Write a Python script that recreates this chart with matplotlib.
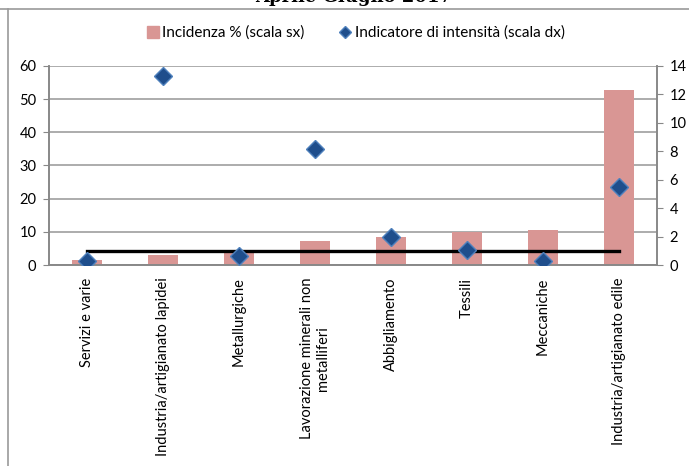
import matplotlib
matplotlib.use("Agg")
import matplotlib.pyplot as plt
from matplotlib.lines import Line2D
import numpy as np

categories = ["Servizi e varie", "Industria/artigianato lapidei", "Metallurgiche",
              "Lavorazione minerali non\nmetalliferi", "Abbigliamento", "Tessili",
              "Meccaniche", "Industria/artigianato edile"]
incidenza = [1.5, 2.9, 4.2, 7.2, 8.3, 10.0, 10.5, 52.8]
intensita = [0.3, 13.3, 0.63, 8.15, 2.0, 1.05, 0.3, 5.5]
soglia = [1, 1, 1, 1, 1, 1, 1, 1]
left_ticks = [0, 10, 20, 30, 40, 50, 60]
right_ticks = [0, 2, 4, 6, 8, 10, 12, 14]

plt.rcParams['font.family'] = ['Lato', 'DejaVu Sans']

fig = plt.figure(figsize=(6.89, 4.66), dpi=100)
ax = fig.add_axes([0.0711, 0.4313, 0.8824, 0.4271])
ax2 = ax.twinx()

x = np.arange(len(categories))
ax.bar(x, incidenza, width=0.4, color='#D99694', zorder=2)
ax.set_xlim(-0.5, len(categories) - 0.5)
ax.set_ylim(0, 60)
ax.set_yticks(left_ticks)
ax.yaxis.grid(True, color='#A6A6A6', linewidth=1.3, zorder=0)
ax.set_axisbelow(True)
ax.set_xticks(x)
ax.set_xticklabels(categories, rotation=90, fontsize=10.5, ha='center', va='top',
                   multialignment='center')
ax.tick_params(axis='x', length=0, pad=9)
ax.tick_params(axis='y', labelsize=10.5, length=4, color='#888888', direction='out', pad=5)

ax2.plot(x, soglia, color='black', linewidth=2.4, zorder=3)
ax2.plot(x, intensita, linestyle='none', marker='D', markersize=9.5,
         markerfacecolor='#1F4E8C', markeredgecolor='#4F81BD', markeredgewidth=1, zorder=4)
ax2.set_ylim(0, 14)
ax2.set_yticks(right_ticks)
ax2.tick_params(axis='y', labelsize=10.5, length=4, color='#888888', direction='out', pad=5)

for a in (ax, ax2):
    a.spines['top'].set_visible(False)
    for s in ('left', 'right', 'bottom'):
        a.spines[s].set_color('#888888')
        a.spines[s].set_linewidth(1.2)

handles = [
    Line2D([], [], linestyle='none', marker='s', markersize=8, markerfacecolor='#D99694',
           markeredgecolor='#D99694'),
    Line2D([], [], linestyle='none', marker='D', markersize=6, markerfacecolor='#1F4E8C',
           markeredgecolor='#4F81BD'),
]
fig.legend(handles, ["Incidenza % (scala sx)", "Indicatore di intensità (scala dx)"],
           loc='center', bbox_to_anchor=(0.515, 1 - 33 / 466), ncol=2, frameon=False,
           fontsize=11, handletextpad=0.1, columnspacing=2.2, handlelength=1.0)

# document title cut by the top edge
fig.text(354 / 689, 1 - 2 / 466, "Aprile Giugno 2017", ha='center', va='baseline',
         fontsize=13, fontweight='bold', family='DejaVu Serif')

# chart frame
fig.add_artist(Line2D([0, 1], [1 - 9 / 466, 1 - 9 / 466], color='#9a9a9a', linewidth=1.2,
                      transform=fig.transFigure))
fig.add_artist(Line2D([8 / 689, 8 / 689], [0, 1 - 9 / 466], color='#9a9a9a', linewidth=1.2,
                      transform=fig.transFigure))

fig.savefig("out.png", dpi=100)
